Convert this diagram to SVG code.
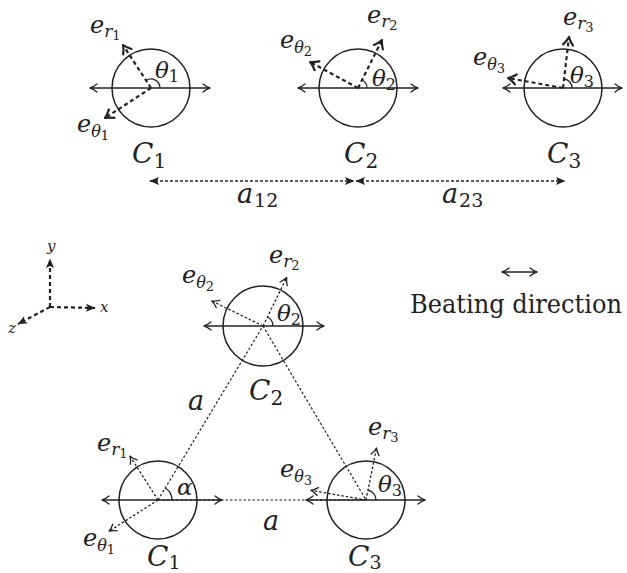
<svg xmlns="http://www.w3.org/2000/svg" width="627" height="573" viewBox="0 0 627 573">
<defs>
<style>
.circ{fill:none;stroke:#222;stroke-width:1.5}
.hl{fill:none;stroke:#222;stroke-width:1.4;marker-start:url(#open);marker-end:url(#open)}
.vec{fill:none;stroke:#222;stroke-width:2.2;stroke-dasharray:4 3;marker-end:url(#bold)}
.vecb{fill:none;stroke:#222;stroke-width:1.3;stroke-dasharray:2.5 2;marker-end:url(#open)}
.tri{fill:none;stroke:#222;stroke-width:1.2;stroke-dasharray:2.5 2}
.dim{fill:none;stroke:#222;stroke-width:1.4;stroke-dasharray:3 2}
.ax{fill:none;stroke:#222;stroke-width:2.2;stroke-dasharray:4 3;marker-end:url(#fill)}
.arc{fill:none;stroke:#222;stroke-width:1.3}
text{font-family:'DejaVu Serif','Liberation Serif','Times New Roman',serif}
.m{font-style:italic;fill:#222}
.u{font-style:normal}
.t{fill:#222;font-family:'DejaVu Serif Condensed','DejaVu Serif',serif}
.mk{fill:none;stroke:#222;stroke-linecap:round;stroke-linejoin:round}
.mkf{fill:#222;stroke:none}
</style>
<marker id="open" markerUnits="userSpaceOnUse" viewBox="-10 -6 12 12" refX="0" refY="0" markerWidth="12" markerHeight="12" orient="auto-start-reverse">
<path class="mk" stroke-width="1.3" d="M-7,-4 Q-3,-0.8 0,0 Q-3,0.8 -7,4"/>
</marker>
<marker id="bold" markerUnits="userSpaceOnUse" viewBox="-11 -7 14 14" refX="0" refY="0" markerWidth="14" markerHeight="14" orient="auto-start-reverse">
<path class="mk" stroke-width="2.2" d="M-8,-5 Q-3,-1 0,0 Q-3,1 -8,5"/>
</marker>
<marker id="fill" markerUnits="userSpaceOnUse" viewBox="-11 -6 12 12" refX="0" refY="0" markerWidth="12" markerHeight="12" orient="auto-start-reverse">
<path class="mkf" d="M0.5,0 L-9,-4 L-7,0 L-9,4 Z"/>
</marker>
</defs>
<rect width="627" height="573" fill="#fff"/>

<g id="connectors">
<line class="dim" x1="150" y1="181" x2="354" y2="181" marker-start="url(#fill)" marker-end="url(#fill)"/>
<line class="dim" x1="356" y1="181" x2="565" y2="181" marker-start="url(#fill)" marker-end="url(#fill)"/>
<line class="tri" x1="158" y1="500" x2="263" y2="326"/>
<line class="tri" x1="263" y1="326" x2="366" y2="500"/>
<line class="tri" x1="158" y1="500" x2="366" y2="500"/>
<text class="m" x="237" y="203" font-size="27">a<tspan class="u" font-size="19" dy="4" dx="1">12</tspan></text>
<text class="m" x="442" y="203" font-size="27">a<tspan class="u" font-size="19" dy="4" dx="1">23</tspan></text>
<text class="m" x="188" y="410" font-size="27">a</text>
<text class="m" x="263" y="530" font-size="27">a</text>
</g>

<g id="top-C1">
<line class="hl" x1="90" y1="88" x2="210" y2="88"/>
<circle class="circ" cx="151" cy="88" r="39"/>
<line class="vec" x1="151" y1="88" x2="123" y2="45"/>
<line class="vec" x1="151" y1="88" x2="105" y2="118"/>
<path class="arc" d="M160,88 A9,9 0 0 0 146.1,80.45"/>
<text class="m" x="155" y="78" font-size="23">θ<tspan class="u" font-size="16" dy="4">1</tspan></text>
<text class="m" x="90" y="33" font-size="24">e<tspan font-size="17" dy="4">r</tspan><tspan class="u" font-size="13" dy="3">1</tspan></text>
<text class="m" x="77" y="132" font-size="24">e<tspan font-size="16" dy="5">θ</tspan><tspan class="u" font-size="13" dy="3">1</tspan></text>
<text class="m" x="132" y="163" font-size="28">C<tspan class="u" font-size="20" dy="5">1</tspan></text>
</g>

<g id="top-C2">
<line class="hl" x1="298" y1="88" x2="418" y2="88"/>
<circle class="circ" cx="358" cy="88" r="39"/>
<line class="vec" x1="358" y1="88" x2="382" y2="40"/>
<line class="vec" x1="358" y1="88" x2="310" y2="62"/>
<path class="arc" d="M367,88 A9,9 0 0 0 362,80"/>
<text class="m" x="372" y="86" font-size="23">θ<tspan class="u" font-size="16" dy="4">2</tspan></text>
<text class="m" x="367" y="23" font-size="24">e<tspan font-size="17" dy="4">r</tspan><tspan class="u" font-size="13" dy="3">2</tspan></text>
<text class="m" x="280" y="48" font-size="24">e<tspan font-size="16" dy="5">θ</tspan><tspan class="u" font-size="13" dy="3">2</tspan></text>
<text class="m" x="344" y="163" font-size="28">C<tspan class="u" font-size="20" dy="5">2</tspan></text>
</g>

<g id="top-C3">
<line class="hl" x1="503" y1="88" x2="622" y2="88"/>
<circle class="circ" cx="563" cy="88" r="39"/>
<line class="vec" x1="563" y1="88" x2="569" y2="37"/>
<line class="vec" x1="563" y1="88" x2="508" y2="78"/>
<path class="arc" d="M572,88 A9,9 0 0 0 564,79"/>
<text class="m" x="570" y="83" font-size="23">θ<tspan class="u" font-size="16" dy="4">3</tspan></text>
<text class="m" x="563" y="25" font-size="24">e<tspan font-size="17" dy="4">r</tspan><tspan class="u" font-size="13" dy="3">3</tspan></text>
<text class="m" x="473" y="65" font-size="24">e<tspan font-size="16" dy="5">θ</tspan><tspan class="u" font-size="13" dy="3">3</tspan></text>
<text class="m" x="547" y="163" font-size="28">C<tspan class="u" font-size="20" dy="5">3</tspan></text>
</g>

<g id="axes">
<line class="ax" x1="50" y1="307" x2="50" y2="259"/>
<line class="ax" x1="50" y1="307" x2="95" y2="308"/>
<line class="ax" x1="50" y1="307" x2="18" y2="324"/>
<text class="m" x="47" y="251" font-size="15">y</text>
<text class="m" x="100" y="312" font-size="15">x</text>
<text class="m" x="8" y="333" font-size="15">z</text>
</g>

<g id="legend">
<line class="hl" x1="502" y1="272" x2="537" y2="272"/>
<text class="t" x="410" y="313" font-size="26" textLength="212" lengthAdjust="spacingAndGlyphs">Beating direction</text>
</g>

<g id="bot-C2">
<line class="hl" x1="204" y1="326" x2="324" y2="326"/>
<circle class="circ" cx="263" cy="326" r="40"/>
<line class="vecb" x1="263" y1="326" x2="286.7" y2="277.5"/>
<line class="vecb" x1="263" y1="326" x2="211.8" y2="301"/>
<path class="arc" d="M273,326 A10,10 0 0 0 267.4,317"/>
<text class="m" x="277" y="321" font-size="23">θ<tspan class="u" font-size="16" dy="4">2</tspan></text>
<text class="m" x="269" y="263" font-size="24">e<tspan font-size="17" dy="4">r</tspan><tspan class="u" font-size="13" dy="3">2</tspan></text>
<text class="m" x="182" y="283" font-size="24">e<tspan font-size="16" dy="5">θ</tspan><tspan class="u" font-size="13" dy="3">2</tspan></text>
<text class="m" x="249" y="400" font-size="28">C<tspan class="u" font-size="20" dy="5">2</tspan></text>
</g>

<g id="bot-C1">
<line class="hl" x1="102" y1="500" x2="222" y2="500"/>
<circle class="circ" cx="158" cy="500" r="39"/>
<line class="vecb" x1="158" y1="500" x2="130" y2="456.2"/>
<line class="vecb" x1="158" y1="500" x2="109.1" y2="531.2"/>
<path class="arc" d="M172,500 A14,14 0 0 0 165.2,488"/>
<text class="m" x="177" y="495" font-size="23">α</text>
<text class="m" x="97" y="451" font-size="24">e<tspan font-size="17" dy="4">r</tspan><tspan class="u" font-size="13" dy="3">1</tspan></text>
<text class="m" x="83" y="546" font-size="24">e<tspan font-size="16" dy="5">θ</tspan><tspan class="u" font-size="13" dy="3">1</tspan></text>
<text class="m" x="147" y="566" font-size="28">C<tspan class="u" font-size="19" dy="3">1</tspan></text>
</g>

<g id="bot-C3">
<line class="hl" x1="306" y1="500" x2="425" y2="500"/>
<circle class="circ" cx="366" cy="500" r="39"/>
<line class="vecb" x1="366" y1="500" x2="376.5" y2="448"/>
<line class="vecb" x1="366" y1="500" x2="310.9" y2="490.3"/>
<path class="arc" d="M376,500 A10,10 0 0 0 368,490.2"/>
<text class="m" x="378" y="492" font-size="23">θ<tspan class="u" font-size="16" dy="4">3</tspan></text>
<text class="m" x="368" y="435" font-size="24">e<tspan font-size="17" dy="4">r</tspan><tspan class="u" font-size="13" dy="3">3</tspan></text>
<text class="m" x="280" y="477" font-size="24">e<tspan font-size="16" dy="5">θ</tspan><tspan class="u" font-size="13" dy="3">3</tspan></text>
<text class="m" x="348" y="566" font-size="28">C<tspan class="u" font-size="19" dy="3">3</tspan></text>
</g>
</svg>
